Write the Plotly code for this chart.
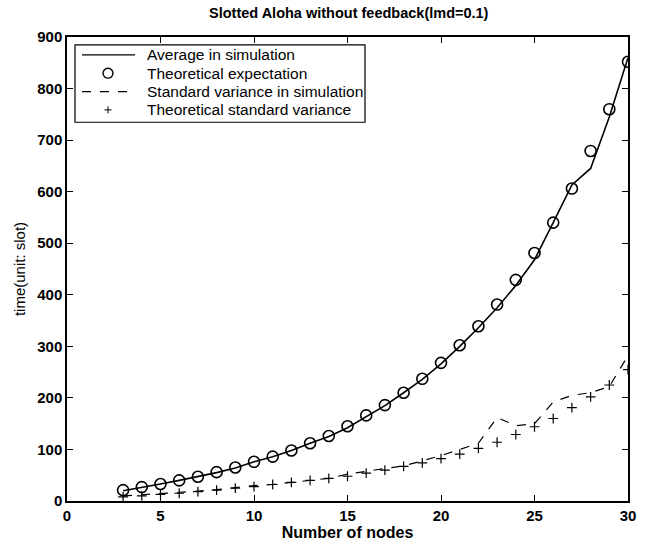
import plotly.graph_objects as go

nodes = list(range(3, 31))

avg_sim = [20, 26, 33, 40, 47, 55, 64, 76, 86, 98, 112, 125, 142, 163, 185,
           210, 236, 266, 300, 336, 375, 418, 468, 540, 613, 645, 745, 860]
theo_exp = [21, 27, 33, 40, 47, 56, 65, 76, 86, 98, 112, 126, 145, 166, 186,
            210, 237, 268, 302, 339, 381, 429, 481, 540, 606, 679, 760, 852]
std_sim = [10, 12, 14, 17, 19, 22, 26, 30, 32, 36, 40, 44, 52, 58, 63,
           68, 78, 88, 100, 112, 162, 146, 150, 192, 205, 210, 222, 282]
theo_std = [8, 10, 13, 15, 18, 21, 25, 28, 32, 36, 40, 44, 48, 54, 60,
            67, 74, 82, 91, 102, 114, 129, 144, 160, 181, 202, 225, 255]

series_names = ["Average in simulation", "Theoretical expectation",
                "Standard variance in simulation", "Theoretical standard variance"]

x_ticks = [0, 5, 10, 15, 20, 25, 30]
y_ticks = [0, 100, 200, 300, 400, 500, 600, 700, 800, 900]

FONT = "Liberation Sans, Arial, sans-serif"
W, H = 658, 550
ML, MR, MT, MB = 67, 30, 37, 45
PW, PH = W - ML - MR, H - MT - MB


def px(x):
    """Horizontal pixel -> paper coordinate."""
    return (x - ML) / PW


def py(y):
    """Vertical pixel (from top) -> paper coordinate."""
    return (H - MB - y) / PH


fig = go.Figure()
fig.add_trace(go.Scatter(x=nodes, y=avg_sim, mode="lines", name=series_names[0],
                         line=dict(color="black", width=1.6)))
fig.add_trace(go.Scatter(x=nodes, y=theo_exp, mode="markers", name=series_names[1],
                         marker=dict(symbol="circle-open", size=11, color="black",
                                     line=dict(width=1.6, color="black"))))
fig.add_trace(go.Scatter(x=nodes, y=std_sim, mode="lines", name=series_names[2],
                         line=dict(color="black", width=1.2, dash="dash")))
fig.add_trace(go.Scatter(x=nodes, y=theo_std, mode="markers", name=series_names[3],
                         marker=dict(symbol="cross-thin", size=7, color="black",
                                     line=dict(width=1.2, color="black"))))

# Compact legend box drawn with shapes and annotations
shapes = [
    dict(type="rect", xref="paper", yref="paper",
         x0=px(75), x1=px(365), y0=py(123), y1=py(45),
         line=dict(color="black", width=1.2), fillcolor="white", layer="above"),
]
annotations = []
row_y = [55, 73.5, 92, 110.5]
sample_x0, sample_x1, sample_xc = 82, 135, 108
# solid line sample
shapes.append(dict(type="line", xref="paper", yref="paper",
                   x0=px(sample_x0), x1=px(sample_x1), y0=py(row_y[0]), y1=py(row_y[0]),
                   line=dict(color="black", width=1.4), layer="above"))
# circle sample
r = 5
shapes.append(dict(type="circle", xref="paper", yref="paper",
                   x0=px(sample_xc - r), x1=px(sample_xc + r),
                   y0=py(row_y[1] + r), y1=py(row_y[1] - r),
                   line=dict(color="black", width=1.4), layer="above"))
# dashed line sample
shapes.append(dict(type="line", xref="paper", yref="paper",
                   x0=px(sample_x0), x1=px(sample_x1), y0=py(row_y[2]), y1=py(row_y[2]),
                   line=dict(color="black", width=1.2, dash="dash"), layer="above"))
# plus sample
p = 3.5
shapes.append(dict(type="line", xref="paper", yref="paper",
                   x0=px(sample_xc - p), x1=px(sample_xc + p), y0=py(row_y[3]), y1=py(row_y[3]),
                   line=dict(color="black", width=1), layer="above"))
shapes.append(dict(type="line", xref="paper", yref="paper",
                   x0=px(sample_xc), x1=px(sample_xc), y0=py(row_y[3] - p), y1=py(row_y[3] + p),
                   line=dict(color="black", width=1), layer="above"))
for name, yy in zip(series_names, row_y):
    annotations.append(dict(text=name, xref="paper", yref="paper",
                            x=px(145), y=py(yy), xanchor="left", yanchor="middle",
                            showarrow=False,
                            font=dict(family=FONT, size=15.5, color="black")))

axis_common = dict(showgrid=False, zeroline=False, showline=True, linecolor="black",
                   linewidth=1.5, mirror="ticks", ticks="inside", ticklen=6,
                   tickcolor="black", tickwidth=1.2,
                   tickfont=dict(family=FONT, size=15, color="black", weight="bold"))

fig.update_layout(
    width=W, height=H,
    margin=dict(l=ML, r=MR, t=MT, b=MB),
    paper_bgcolor="white", plot_bgcolor="white",
    title=dict(text="Slotted Aloha without feedback(lmd=0.1)", x=0.53, xanchor="center",
               y=0.985, yanchor="top",
               font=dict(family=FONT, size=14.5, color="black", weight="bold")),
    xaxis=dict(range=[0, 30], tickvals=x_ticks,
               title=dict(text="Number of nodes", standoff=3,
                          font=dict(family=FONT, size=16, color="black", weight="bold")),
               **axis_common),
    yaxis=dict(range=[0, 900], tickvals=y_ticks,
               title=dict(text="time(unit: slot)", standoff=8,
                          font=dict(family=FONT, size=15, color="black")),
               **axis_common),
    shapes=shapes,
    annotations=annotations,
    showlegend=False,
)

fig.write_html("out.html")
